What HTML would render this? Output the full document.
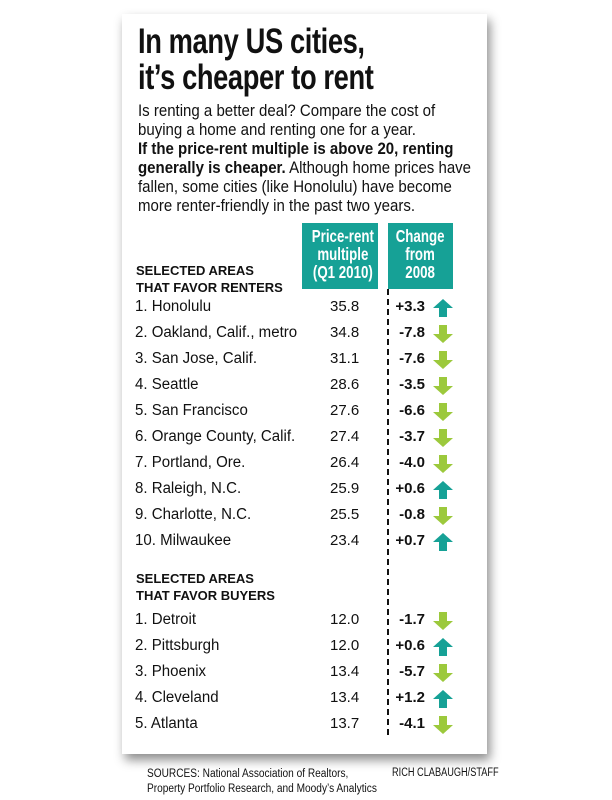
<!DOCTYPE html><html><head><style>
body{margin:0;width:612px;height:800px;background:#fff;position:relative;font-family:"Liberation Sans",sans-serif;color:#111;overflow:hidden}
.p{position:absolute;left:122px;top:14px;width:365px;height:740px;background:#fff;box-shadow:3px 6px 10px rgba(0,0,0,.45)}
.a{position:absolute;white-space:nowrap}
.t{font-weight:bold;font-size:35px;transform:scaleX(.78);transform-origin:0 0;letter-spacing:-.5px;left:138px}
.b{font-size:16.5px;left:138px;transform:scaleX(.91);transform-origin:0 0}
.h{position:absolute;background:#16a196;color:#fff;font-weight:bold;font-size:17.5px;text-align:center;line-height:18px;overflow:hidden;white-space:nowrap}
.h span{display:inline-block;transform:scaleX(.76);white-space:nowrap}
.n{left:135px;font-size:15.5px;transform:scaleX(.97);transform-origin:0 0}
.m{left:330px;font-size:15px}
.c{font-weight:bold;font-size:15px;text-align:right;width:50px;left:375px}
.s{left:136px;font-size:13px;font-weight:bold;line-height:17px}
</style></head><body>
<div class="p"></div>
<div class="a t" style="top:22px">In many US cities,</div>
<div class="a t" style="top:58px">it’s cheaper to rent</div>
<div class="a b" style="top:102px">Is renting a better deal? Compare the cost of</div>
<div class="a b" style="top:121px">buying a home and renting one for a year.</div>
<div class="a b" style="top:140px;font-weight:bold">If the price-rent multiple is above 20, renting</div>
<div class="a b" style="top:159px"><b>generally is cheaper.</b> Although home prices have</div>
<div class="a b" style="top:178px">fallen, some cities (like Honolulu) have become</div>
<div class="a b" style="top:197px">more renter-friendly in the past two years.</div>
<div class="h" style="left:302px;top:223px;width:76px;height:66px;padding-top:4px;box-sizing:border-box"><span>Price-rent<br>multiple<br>(Q1 2010)</span></div>
<div class="h" style="left:388px;top:223px;width:65px;height:66px;padding-top:4px;box-sizing:border-box"><span>Change<br>from<br>2008</span></div>
<div class="a" style="left:387px;top:289px;height:446px;border-left:2px dashed #111"></div>
<div class="a s" style="top:262px">SELECTED AREAS<br>THAT FAVOR RENTERS</div>
<div class="a s" style="top:570px">SELECTED AREAS<br>THAT FAVOR BUYERS</div>
<div id="rows"></div>
<div class="a" style="left:147px;top:767px;font-size:11.5px;line-height:15px;transform:scaleX(.88);transform-origin:0 0">SOURCES: National Association of Realtors,<br>Property Portfolio Research, and Moody’s Analytics</div>
<div class="a" style="left:392px;top:767px;font-size:11.5px;transform:scaleX(.8);transform-origin:0 0">RICH CLABAUGH/STAFF</div>
<script>
var R=[["1. Honolulu","35.8","+3.3"],["2. Oakland, Calif., metro","34.8","-7.8"],["3. San Jose, Calif.","31.1","-7.6"],["4. Seattle","28.6","-3.5"],["5. San Francisco","27.6","-6.6"],["6. Orange County, Calif.","27.4","-3.7"],["7. Portland, Ore.","26.4","-4.0"],["8. Raleigh, N.C.","25.9","+0.6"],["9. Charlotte, N.C.","25.5","-0.8"],["10. Milwaukee","23.4","+0.7"]];
var B=[["1. Detroit","12.0","-1.7"],["2. Pittsburgh","12.0","+0.6"],["3. Phoenix","13.4","-5.7"],["4. Cleveland","13.4","+1.2"],["5. Atlanta","13.7","-4.1"]];
var h="";
function add(a,y0){a.forEach(function(r,i){var y=y0+i*26;
h+='<div class="a n" style="top:'+y+'px">'+r[0]+'</div><div class="a m" style="top:'+y+'px">'+r[1]+'</div><div class="a c" style="top:'+y+'px">'+r[2]+'</div>';
var up=r[2][0]=="+";
h+='<svg class="a" style="left:433px;top:'+(y+1)+'px" width="20" height="18" viewBox="0 0 20 18">'+(up?'<path d="M10 0L20 9H14V18H6V9H0Z" fill="#16a196"/>':'<path d="M6 0H14V9H20L10 18L0 9H6Z" fill="#9cc93c"/>')+'</svg>';});}
add(R,298);add(B,611);
document.getElementById("rows").innerHTML=h;
</script>
</body></html>
